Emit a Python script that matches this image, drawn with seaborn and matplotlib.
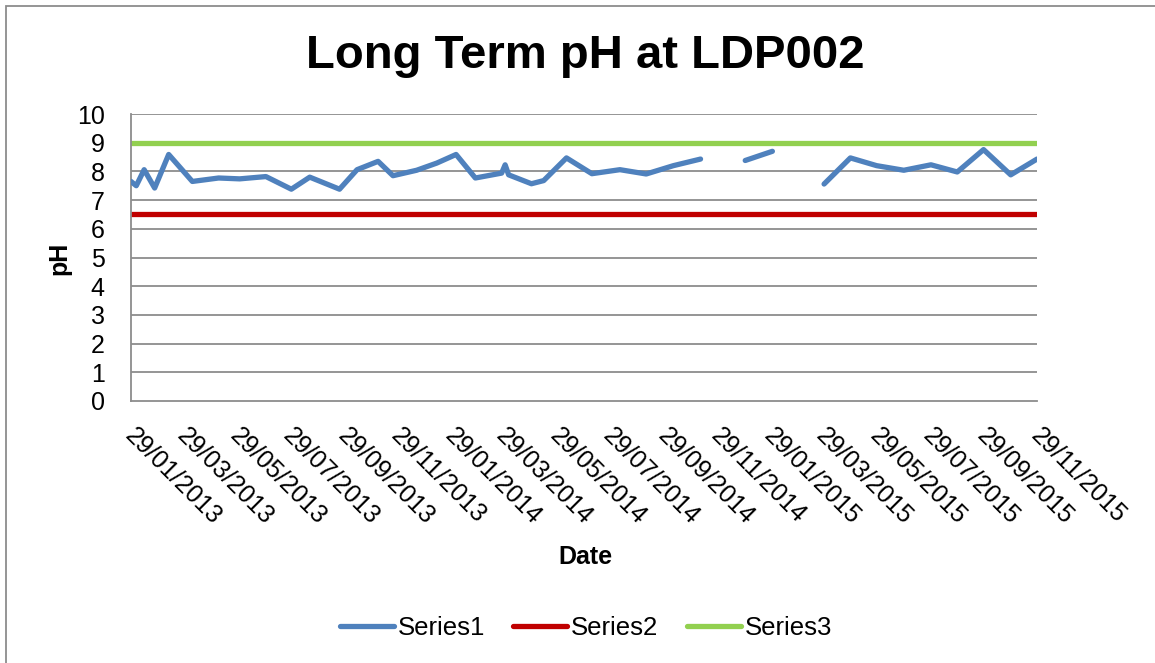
import matplotlib
matplotlib.use("Agg")
import matplotlib.pyplot as plt
import matplotlib.patches as mpatches
import matplotlib.transforms as mtransforms
from matplotlib.lines import Line2D
import seaborn as sns
import pandas as pd
import numpy as np

# ---- data ----
series1_dates = [
    "2013-01-29", "2013-02-04", "2013-02-13", "2013-02-25", "2013-03-13",
    "2013-04-09", "2013-05-09", "2013-06-02", "2013-07-02", "2013-07-31",
    "2013-08-21", "2013-09-24", "2013-10-14", "2013-11-07", "2013-11-24",
    "2013-12-21", "2014-01-13", "2014-02-04", "2014-02-26", "2014-03-28",
    "2014-04-01", "2014-04-05", "2014-05-01", "2014-05-15", "2014-06-10",
    "2014-07-09", "2014-08-10", "2014-09-09", "2014-10-10", "2014-11-10",
    "2014-12-05", "2014-12-31", "2015-01-31", "2015-03-01", "2015-03-31",
    "2015-04-30", "2015-05-30", "2015-06-30", "2015-07-31", "2015-08-30",
    "2015-09-29", "2015-10-30", "2015-11-29",
]
series1_ph = [
    7.65, 7.50, 8.06, 7.42, 8.59,
    7.65, 7.77, 7.74, 7.82, 7.38,
    7.80, 7.38, 8.06, 8.35, 7.85,
    8.04, 8.29, 8.59, 7.77, 7.94,
    8.23, 7.88, 7.57, 7.68, 8.47,
    7.92, 8.06, 7.91, 8.20, 8.43,
    np.nan, 8.38, 8.70, np.nan, 7.56,
    8.47, 8.20, 8.04, 8.23, 7.98,
    8.76, 7.88, 8.43,
]
limit_dates = ["2013-01-29", "2015-11-29"]
series2_ph = [6.5, 6.5]
series3_ph = [9.0, 9.0]

tick_labels = [
    "29/01/2013", "29/03/2013", "29/05/2013", "29/07/2013", "29/09/2013",
    "29/11/2013", "29/01/2014", "29/03/2014", "29/05/2014", "29/07/2014",
    "29/09/2014", "29/11/2014", "29/01/2015", "29/03/2015", "29/05/2015",
    "29/07/2015", "29/09/2015", "29/11/2015",
]
series_names = ["Series1", "Series2", "Series3"]
colors = ["#4F81BD", "#C00000", "#92D050"]

# ---- build frames ----
df1 = pd.DataFrame({"date": pd.to_datetime(series1_dates), "ph": series1_ph})
df1["segment"] = df1["ph"].isna().cumsum()
df1 = df1.dropna()
df2 = pd.DataFrame({"date": pd.to_datetime(limit_dates), "ph": series2_ph})
df3 = pd.DataFrame({"date": pd.to_datetime(limit_dates), "ph": series3_ph})

sns.set_theme(style="white")
plt.rcParams["font.family"] = ["Liberation Sans", "DejaVu Sans"]
plt.rcParams["text.color"] = "black"
plt.rcParams["axes.labelcolor"] = "black"
plt.rcParams["xtick.color"] = "black"
plt.rcParams["ytick.color"] = "black"

fig = plt.figure(figsize=(11.55, 6.63), dpi=100)
ax = fig.add_axes([131/1155, 1 - 401/663, (1037-131)/1155, (401-114)/663])

grid_c = "#8c8c8c"
ax.set_ylim(0, 10)
ax.set_yticks(range(0, 11))
for v in range(1, 11):
    ax.axhline(v, color=grid_c, lw=1.3, zorder=0)

lw = 3.8
sns.lineplot(data=df1, x="date", y="ph", units="segment", estimator=None,
             color=colors[0], lw=lw, ax=ax, legend=False, zorder=3,
             solid_capstyle="round", solid_joinstyle="round")
sns.lineplot(data=df2, x="date", y="ph", color=colors[1], lw=lw, ax=ax,
             legend=False, zorder=2, solid_capstyle="round")
sns.lineplot(data=df3, x="date", y="ph", color=colors[2], lw=lw, ax=ax,
             legend=False, zorder=2, solid_capstyle="round")

ax.set_xlim(pd.Timestamp(limit_dates[0]), pd.Timestamp(limit_dates[1]))
tick_pos = pd.to_datetime(tick_labels, format="%d/%m/%Y")
ax.set_xticks(tick_pos)
ax.set_xticklabels(tick_labels, rotation=-45, ha="left", va="top",
                   rotation_mode="anchor", fontsize=18, color="black")
ax.tick_params(axis="x", length=0, pad=16)
ax.tick_params(axis="y", length=0, pad=19, labelsize=18, labelcolor="black")
shift = mtransforms.ScaledTranslation(6/100, 0, fig.dpi_scale_trans)
for lab in ax.get_xticklabels():
    lab.set_transform(lab.get_transform() + shift)

for s in ["top", "right"]:
    ax.spines[s].set_visible(False)
for s in ["left", "bottom"]:
    ax.spines[s].set_color(grid_c)
    ax.spines[s].set_linewidth(1.3)

ax.set_xlabel("")
ax.set_ylabel("")
fig.text(59/1155, 1 - 258/663, "pH", rotation=90, ha="center", va="center",
         fontsize=18, fontweight="bold", color="black")
fig.text(585/1155, 1 - 557/663, "Date", ha="center", va="center",
         fontsize=18, fontweight="bold", color="black")
fig.text(585/1155, 1 - 56/663, "Long Term pH at LDP002", ha="center",
         va="center", fontsize=34, fontweight="bold", color="black")

handles = [Line2D([0], [0], color=c, lw=lw, solid_capstyle="round") for c in colors]
fig.legend(handles, series_names, loc="center", bbox_to_anchor=(586/1155, 1 - 628/663),
           ncol=3, frameon=False, fontsize=18.5, handlelength=2.1,
           handletextpad=0.15, columnspacing=1.1, labelcolor="black")

# outer chart border (left and top edges visible)
border = mpatches.Rectangle((6/1155, -0.05), 1.2, 1.05 - 6/663,
                            transform=fig.transFigure, fill=False,
                            edgecolor="#8c8c8c", lw=1.3)
fig.patches.append(border)

fig.savefig("out.png", dpi=100)
